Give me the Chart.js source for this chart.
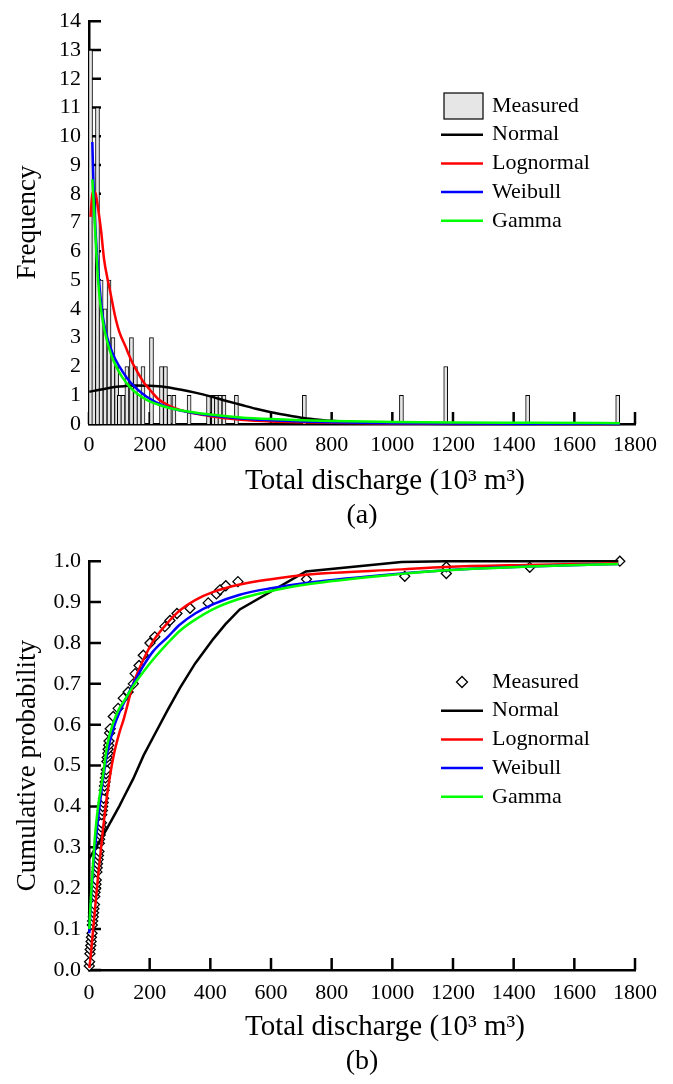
<!DOCTYPE html>
<html>
<head>
<meta charset="utf-8">
<script src="https://cdn.jsdelivr.net/npm/chart.js@4"></script>
<style>
  body { margin: 0; background: #fff; }
  #wrap { position: relative; width: 673px; height: 1084px; }
  canvas { position: absolute; left: 0; }
  #chartA { top: 0; }
  #chartB { top: 540px; }
</style>
</head>
<body>
<div id="wrap">
  <canvas id="chartA" width="673" height="540"></canvas>
  <canvas id="chartB" width="673" height="544"></canvas>
</div>
<script>
// (a) histogram of measured total discharge (10^3 m^3) and fitted pdfs
const binCenters = [5, 16, 28, 40, 53, 66, 79, 91, 100, 112, 125, 140, 153, 165, 178, 206, 239, 252, 265, 280, 330, 394, 410, 420, 432, 445, 486, 710, 1030, 1176, 1446, 1743];
const binCounts = [13, 8, 11, 5, 4, 5, 3, 2, 1, 1, 2, 3, 2, 1, 2, 3, 2, 2, 1, 1, 1, 1, 1, 1, 1, 1, 1, 1, 1, 2, 1, 1];

const normalPdfX = [1, 20, 50, 100, 150, 200, 250, 300, 350, 400, 450, 500, 550, 600, 650, 700, 750, 800, 900, 1000, 1200, 1450, 1750];
const normalPdfY = [1.12, 1.16, 1.22, 1.30, 1.34, 1.33, 1.29, 1.20, 1.09, 0.96, 0.81, 0.67, 0.53, 0.41, 0.31, 0.22, 0.16, 0.11, 0.05, 0.02, 0.0, 0.0, 0.0];

const lognormPdfX = [5, 10, 15, 22, 30, 40, 50, 60, 70, 85, 100, 120, 140, 160, 180, 200, 230, 260, 300, 350, 400, 450, 500, 600, 700, 800, 1000, 1200, 1450, 1750];
const lognormPdfY = [7.2, 7.9, 8.1, 8.0, 7.5, 6.7, 5.7, 5.1, 4.6, 3.8, 3.2, 2.7, 2.2, 1.8, 1.45, 1.2, 0.85, 0.66, 0.49, 0.36, 0.27, 0.2, 0.15, 0.09, 0.06, 0.04, 0.02, 0.01, 0.005, 0.003];

const weibullPdfX = [11, 15, 20, 25, 30, 38, 46, 60, 80, 100, 125, 150, 190, 250, 300, 400, 500, 600, 700, 800, 1000, 1200, 1450, 1750];
const weibullPdfY = [9.8, 8.3, 7.0, 6.1, 5.4, 4.4, 3.7, 3.0, 2.4, 2.0, 1.6, 1.3, 0.95, 0.62, 0.47, 0.3, 0.19, 0.13, 0.09, 0.06, 0.03, 0.016, 0.008, 0.004];

const gammaPdfX = [11, 15, 20, 25, 30, 36, 45, 59, 75, 92, 110, 135, 160, 190, 250, 300, 400, 500, 600, 700, 800, 1000, 1200, 1450, 1750];
const gammaPdfY = [8.5, 7.8, 6.8, 5.8, 5.0, 4.3, 3.6, 2.9, 2.35, 1.95, 1.62, 1.28, 1.04, 0.84, 0.6, 0.48, 0.33, 0.23, 0.17, 0.13, 0.1, 0.07, 0.05, 0.04, 0.03];

// (b) cumulative probability
const measuredX = [1, 2, 3, 4, 6, 7, 8, 10, 11, 12, 14, 15, 16, 18, 19, 20, 22, 23, 24, 26, 27, 28, 30, 31, 33, 34, 35, 37, 38, 40, 41, 42, 44, 45, 47, 48, 50, 51, 53, 54, 56, 57, 59, 60, 62, 63, 65, 66, 68, 70,
  80, 96, 113, 129, 146, 152, 165, 179, 201, 217, 250, 267, 290, 333, 393, 420, 432, 451, 491, 717, 1041, 1178, 1178, 1453, 1750];
const measuredP = [0.01, 0.02, 0.04, 0.05, 0.06, 0.07, 0.08, 0.09, 0.11, 0.12, 0.13, 0.14, 0.15, 0.16, 0.18, 0.19, 0.20, 0.21, 0.22, 0.24, 0.25, 0.26, 0.27, 0.28, 0.29, 0.31, 0.32, 0.33, 0.34, 0.35, 0.36, 0.38, 0.39, 0.40, 0.41, 0.42, 0.44, 0.45, 0.46, 0.47, 0.48, 0.49, 0.51, 0.52, 0.53, 0.54, 0.55, 0.56, 0.58, 0.59,
  0.62, 0.64, 0.665, 0.68, 0.70, 0.725, 0.745, 0.77, 0.80, 0.815, 0.84, 0.855, 0.872, 0.885, 0.898, 0.92, 0.93, 0.94, 0.95, 0.956, 0.963, 0.97, 0.986, 0.985, 1.0];

const normalCdfX = [1, 10, 20, 30, 47, 60, 80, 100, 113, 146, 180, 212, 260, 300, 350, 410, 450, 497, 715, 1030, 1176, 1446, 1745];
const normalCdfY = [0.273, 0.284, 0.296, 0.309, 0.33, 0.347, 0.374, 0.401, 0.42, 0.468, 0.525, 0.57, 0.637, 0.69, 0.75, 0.81, 0.846, 0.882, 0.975, 0.998, 1.0, 1.0, 1.0];

const cdfX = [1, 5, 10, 20, 30, 47, 60, 80, 100, 113, 146, 180, 212, 260, 300, 350, 410, 497, 600, 715, 1030, 1176, 1446, 1745];
const lognormCdfY = [0.005, 0.03, 0.07, 0.15, 0.23, 0.35, 0.43, 0.52, 0.58, 0.61, 0.70, 0.76, 0.805, 0.85, 0.88, 0.905, 0.925, 0.943, 0.956, 0.967, 0.98, 0.986, 0.991, 0.995];
const weibullCdfY = [0.09, 0.15, 0.21, 0.30, 0.37, 0.47, 0.53, 0.59, 0.63, 0.65, 0.70, 0.745, 0.78, 0.815, 0.845, 0.872, 0.895, 0.918, 0.934, 0.947, 0.97, 0.978, 0.987, 0.993];
const gammaCdfY = [0.10, 0.16, 0.22, 0.33, 0.40, 0.48, 0.55, 0.605, 0.64, 0.655, 0.695, 0.73, 0.76, 0.8, 0.83, 0.857, 0.883, 0.908, 0.927, 0.943, 0.969, 0.978, 0.987, 0.993];

const SERIF = "'Liberation Serif', 'Times New Roman', serif";
Chart.defaults.font.family = SERIF;
Chart.defaults.color = '#000';

const pts = (xs, ys) => xs.map((x, i) => ({ x: x, y: ys[i] }));

// ticks pointing into the plot, like the original figure
const inwardTicks = {
  id: 'inwardTicks',
  beforeDatasetsDraw(chart) {
    const { ctx, chartArea, scales } = chart;
    ctx.save();
    ctx.strokeStyle = '#000';
    ctx.lineWidth = 2.5;
    ctx.beginPath();
    scales.x.ticks.forEach(t => {
      const px = scales.x.getPixelForValue(t.value);
      ctx.moveTo(px, chartArea.bottom);
      ctx.lineTo(px, chartArea.bottom - 12);
    });
    scales.y.ticks.forEach(t => {
      const py = scales.y.getPixelForValue(t.value);
      ctx.moveTo(chartArea.left, py);
      ctx.lineTo(chartArea.left + 12, py);
    });
    ctx.stroke();
    ctx.restore();
  }
};

// legend drawn inside the plot area
const insideLegend = {
  id: 'insideLegend',
  afterDraw(chart, args, opts) {
    const ctx = chart.ctx;
    ctx.save();
    ctx.font = '22px ' + SERIF;
    ctx.textBaseline = 'middle';
    ctx.fillStyle = '#000';
    chart.data.datasets.forEach((ds, i) => {
      const y = opts.y + i * opts.gap;
      if (ds.type === 'bar') {
        ctx.fillStyle = ds.backgroundColor;
        ctx.fillRect(opts.x + 3, y - 13, 39, 26);
        ctx.strokeStyle = '#000';
        ctx.lineWidth = 1.2;
        ctx.strokeRect(opts.x + 3, y - 13, 39, 26);
      } else if (ds.showLine === false) {
        const cx = opts.x + 21, r = 5.5;
        ctx.beginPath();
        ctx.moveTo(cx, y - r); ctx.lineTo(cx + r, y); ctx.lineTo(cx, y + r); ctx.lineTo(cx - r, y);
        ctx.closePath();
        ctx.fillStyle = '#fff';
        ctx.fill();
        ctx.strokeStyle = '#000';
        ctx.lineWidth = 1.3;
        ctx.stroke();
      } else {
        ctx.strokeStyle = ds.borderColor;
        ctx.lineWidth = 2.5;
        ctx.beginPath();
        ctx.moveTo(opts.x, y);
        ctx.lineTo(opts.x + 42, y);
        ctx.stroke();
      }
      ctx.fillStyle = '#000';
      ctx.fillText(ds.label, opts.x + 51, y);
    });
    ctx.restore();
  }
};

// x axis title and panel caption under the axis
const captions = {
  id: 'captions',
  afterDraw(chart, args, opts) {
    const { ctx, chartArea } = chart;
    ctx.save();
    ctx.font = '29px ' + SERIF;
    ctx.fillStyle = '#000';
    ctx.textAlign = 'center';
    ctx.textBaseline = 'middle';
    ctx.fillText(opts.title, opts.titleX, chartArea.bottom + opts.titleDy);
    ctx.font = '28px ' + SERIF;
    ctx.fillText(opts.caption, (chartArea.left + chartArea.right) / 2, chartArea.bottom + opts.captionDy);
    ctx.restore();
  }
};

function lineSet(label, data, color, order, smooth) {
  return {
    type: 'line', label: label, data: data,
    borderColor: color, backgroundColor: color, borderWidth: 2.5,
    pointRadius: 0, fill: false, order: order, clip: false,
    tension: 0, cubicInterpolationMode: smooth ? 'monotone' : 'default'
  };
}

function baseOptions(cfg) {
  return {
    responsive: false,
    animation: false,
    events: [],
    layout: { padding: { top: cfg.padTop, right: 38, left: 0, bottom: 0 } },
    plugins: {
      legend: { display: false },
      tooltip: { enabled: false },
      insideLegend: cfg.legend,
      captions: { title: 'Total discharge (10³ m³)', titleX: 385, titleDy: 57, caption: cfg.caption, captionDy: 92 }
    },
    scales: {
      x: {
        type: 'linear', min: 0, max: 1800, offset: false,
        afterFit: s => { s.height = cfg.xHeight; },
        grid: { display: false, drawTicks: false },
        border: { display: true, color: '#000', width: 2.5 },
        ticks: { stepSize: 200, autoSkip: false, maxRotation: 0, padding: cfg.xPad, font: { size: 22 }, callback: v => String(v) }
      },
      y: {
        min: 0, max: cfg.yMax,
        afterFit: s => { s.width = 89; },
        grid: { display: false, drawTicks: false },
        border: { display: true, color: '#000', width: 2.5 },
        ticks: { stepSize: cfg.yStep, autoSkip: false, padding: 8, font: { size: 22 }, callback: cfg.yFormat },
        title: { display: true, text: cfg.yTitle, font: { size: 27 }, padding: { top: 12, bottom: 0 } }
      }
    }
  };
}

new Chart(document.getElementById('chartA'), {
  type: 'bar',
  data: {
    datasets: [
      {
        type: 'bar', label: 'Measured', data: pts(binCenters, binCounts),
        backgroundColor: '#e6e6e6', borderColor: '#000', borderWidth: 1,
        barThickness: 4, order: 6, clip: false
      },
      lineSet('Normal', pts(normalPdfX, normalPdfY), '#000000', 5, true),
      lineSet('Lognormal', pts(lognormPdfX, lognormPdfY), '#ff0000', 4, true),
      lineSet('Weibull', pts(weibullPdfX, weibullPdfY), '#0000ff', 3, true),
      lineSet('Gamma', pts(gammaPdfX, gammaPdfY), '#00ff00', 2, true)
    ]
  },
  options: baseOptions({
    padTop: 15, xHeight: 116, xPad: 8, yMax: 14, yStep: 1,
    yFormat: v => String(v), yTitle: 'Frequency', caption: '(a)',
    legend: { x: 441, y: 106, gap: 28.7 }
  }),
  plugins: [inwardTicks, insideLegend, captions]
});

new Chart(document.getElementById('chartB'), {
  type: 'scatter',
  data: {
    datasets: [
      {
        type: 'scatter', label: 'Measured', data: pts(measuredX, measuredP), showLine: false,
        pointStyle: 'rectRot', pointRadius: 5, pointBorderWidth: 1.3,
        pointBorderColor: '#000', pointBackgroundColor: '#fff', order: 6, clip: false
      },
      lineSet('Normal', pts(normalCdfX, normalCdfY), '#000000', 5, false),
      lineSet('Lognormal', pts(cdfX, lognormCdfY), '#ff0000', 4, true),
      lineSet('Weibull', pts(cdfX, weibullCdfY), '#0000ff', 3, true),
      lineSet('Gamma', pts(cdfX, gammaCdfY), '#00ff00', 2, true)
    ]
  },
  options: baseOptions({
    padTop: 21, xHeight: 114, xPad: 10, yMax: 1, yStep: 0.1,
    yFormat: v => v.toFixed(1), yTitle: 'Cumulative probability', caption: '(b)',
    legend: { x: 441, y: 142, gap: 28.7 }
  }),
  plugins: [inwardTicks, insideLegend, captions]
});
</script>
</body>
</html>
